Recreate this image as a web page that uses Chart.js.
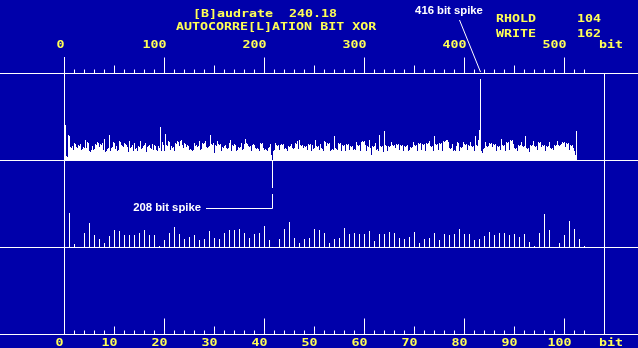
<!DOCTYPE html>
<html>
<head>
<meta charset="utf-8">
<script src="https://cdn.jsdelivr.net/npm/chart.js@4.4.1/dist/chart.umd.min.js"></script>
<style>
  html, body { margin: 0; padding: 0; background: #0000AA; }
  canvas { display: block; }
</style>
</head>
<body>
<canvas id="acChart" width="638" height="348"></canvas>
<script>
// autocorrelation per bit offset (1..512), height above the middle baseline
const bitValues = [
    35, 4, 3, 25, 24, 13, 12, 14, 10, 17, 16, 13, 12, 15, 14, 16,
    10, 11, 13, 12, 20, 12, 18, 17, 9, 8, 10, 14, 10, 11, 16, 15,
    18, 17, 13, 16, 15, 17, 10, 21, 8, 9, 11, 12, 25, 9, 12, 13,
    18, 17, 11, 14, 9, 10, 19, 18, 15, 14, 13, 17, 16, 15, 13, 8,
    19, 12, 13, 15, 9, 17, 11, 12, 9, 14, 13, 19, 11, 12, 14, 15,
    17, 8, 13, 14, 15, 12, 11, 16, 10, 15, 14, 10, 9, 14, 12, 33,
    9, 18, 15, 9, 26, 15, 14, 19, 18, 10, 14, 12, 13, 9, 17, 16,
    19, 18, 14, 19, 20, 15, 12, 17, 16, 13, 15, 14, 10, 11, 10, 9,
    10, 17, 14, 15, 13, 14, 19, 10, 11, 17, 16, 17, 19, 13, 12, 13,
    14, 25, 16, 15, 17, 7, 15, 14, 19, 16, 15, 16, 9, 13, 12, 14,
    15, 12, 11, 12, 17, 20, 9, 15, 14, 16, 15, 9, 10, 13, 12, 13,
    17, 10, 11, 16, 21, 17, 16, 14, 13, 14, 9, 15, 16, 15, 12, 11,
    12, 11, 9, 17, 16, 17, 12, 10, 11, 10, 9, 12, 13, 16, 5, -28,
    9, 10, 17, 15, 14, 15, 10, 15, 16, 15, 16, 11, 12, 11, 9, 14,
    13, 14, 16, 12, 11, 12, 17, 16, 19, 11, 20, 15, 14, 15, 12, 14,
    13, 14, 10, 16, 15, 16, 9, 15, 11, 12, 20, 14, 13, 14, 10, 16,
    12, 11, 9, 19, 18, 14, 17, 16, 17, 9, 10, 11, 10, 24, 12, 11,
    10, 17, 16, 17, 9, 15, 14, 15, 9, 16, 15, 16, 10, 14, 13, 14,
    10, 11, 10, 18, 15, 14, 15, 9, 18, 19, 18, 19, 15, 9, 14, 13,
    20, 12, 5, 14, 13, 14, 17, 10, 11, 9, 25, 14, 13, 14, 8, 29,
    15, 14, 9, 14, 13, 14, 18, 15, 14, 15, 12, 16, 15, 16, 10, 15,
    14, 15, 9, 14, 13, 14, 15, 9, 10, 13, 12, 13, 18, 15, 14, 15,
    9, 17, 16, 17, 10, 16, 15, 16, 9, 17, 16, 17, 19, 14, 13, 14,
    9, 24, 16, 15, 16, 10, 17, 16, 17, 9, 19, 18, 19, 20, 20, 18,
    12, 11, 12, 16, 9, 10, 9, 14, 18, 17, 9, 13, 12, 13, 18, 16,
    15, 16, 10, 15, 14, 18, 14, 13, 14, 9, 24, 15, 14, 20, 30, 81,
    9, 7, 11, 12, 18, 14, 13, 14, 17, 16, 17, 13, 16, 15, 16, 9,
    14, 13, 14, 10, 21, 15, 14, 15, 9, 18, 17, 18, 10, 20, 19, 20,
    16, 12, 11, 12, 9, 15, 14, 15, 18, 14, 13, 14, 24, 12, 11, 12,
    8, 15, 14, 15, 19, 14, 13, 14, 10, 18, 17, 18, 13, 15, 14, 15,
    9, 14, 13, 14, 18, 12, 11, 12, 10, 15, 14, 15, 19, 15, 14, 15,
    16, 18, 17, 18, 13, 17, 16, 17, 10, 15, 14, 15, 12, 9, 5, 29
];
const bitOffsets = bitValues.map((_, i) => i + 1);

// lower panel: one value per lag 1..104
const lagValues = [
    34, 3, -1, 14, 24, 12, 8, 4, 11, 17,
    16, 12, 12, 12, 14, 17, 12, 12, 1, 7,
    14, 20, 13, 8, 10, 12, 7, 8, 16, 9,
    8, 14, 17, 17, 18, 14, 9, 13, 14, 21,
    7, 0, 8, 18, 25, 9, 4, 8, 9, 18,
    17, 14, 4, 8, 9, 19, 13, 14, 13, 13,
    16, 6, 13, 13, 15, 14, 9, 8, 10, 15,
    4, 8, 9, 14, 7, 13, 12, 13, 18, 13,
    13, 7, 8, 11, 15, 12, 14, 14, 12, 13,
    10, 13, 5, 1, 14, 33, 17, 0, 4, 12,
    26, 18, 8, 1
];
const lagOffsets = lagValues.map((_, i) => i + 1);

const topTickLabels = [0, 100, 200, 300, 400, 500];
const bottomTickLabels = [0, 10, 20, 30, 40, 50, 60, 70, 80, 90, 100];
const unitLabel = 'bit';
const titleLines = ['[B]audrate  240.18', 'AUTOCORRE[L]ATION BIT XOR'];
const regLabels = ['RHOLD', 'WRITE'];
const regValues = ['104', '162'];
const spikeNotes = [416, 208];

const BLUE = '#0000AA';
const WHITE = '#FFFFFF';
const YELLOW = '#FFFF55';
const TOP_AXIS_Y = 73.5;
const BOTTOM_AXIS_Y = 334.5;
const LEFT_LINE_TOP = 57;
const FONT_SX = 1.33;

function monoText(ctx, str, x, y, align) {
    ctx.save();
    ctx.font = 'bold 10px "DejaVu Sans Mono"';
    const w = ctx.measureText(str).width * FONT_SX;
    const left = align === 'center' ? x - w / 2 : align === 'right' ? x - w : x;
    ctx.translate(left, y);
    ctx.scale(FONT_SX, 1);
    ctx.textAlign = 'left';
    ctx.textBaseline = 'alphabetic';
    ctx.fillText(str, 0, 0);
    ctx.restore();
}

function line(ctx, x1, y1, x2, y2) {
    ctx.beginPath();
    ctx.moveTo(x1, y1);
    ctx.lineTo(x2, y2);
    ctx.stroke();
}

const scopeDecor = {
    id: 'scopeDecor',
    afterDatasetsDraw(chart) {
        const ctx = chart.ctx;
        const { xBit, xLow, yMid, yLow } = chart.scales;
        const W = chart.width;
        ctx.save();
        ctx.strokeStyle = WHITE;
        ctx.lineWidth = 1;

        // horizontal rules
        line(ctx, 0, TOP_AXIS_Y, W, TOP_AXIS_Y);
        line(ctx, 0, yMid.getPixelForValue(0) + 0.5, W, yMid.getPixelForValue(0) + 0.5);
        line(ctx, 0, yLow.getPixelForValue(0) + 0.5, W, yLow.getPixelForValue(0) + 0.5);
        line(ctx, 0, BOTTOM_AXIS_Y, W, BOTTOM_AXIS_Y);

        // frame verticals
        const x0 = xBit.getPixelForValue(0);
        const xEnd = xBit.getPixelForValue(540);
        line(ctx, x0, LEFT_LINE_TOP, x0, BOTTOM_AXIS_Y);
        line(ctx, xEnd, TOP_AXIS_Y, xEnd, BOTTOM_AXIS_Y);

        // top scale ticks (bits)
        for (let v = 10; v <= 520; v += 10) {
            const len = v % 100 === 0 ? 16 : v % 50 === 0 ? 8 : 4;
            const x = xBit.getPixelForValue(v);
            line(ctx, x, TOP_AXIS_Y - len, x, TOP_AXIS_Y);
        }
        // bottom scale ticks (lags)
        for (let v = 2; v <= 104; v += 2) {
            const len = v % 20 === 0 ? 16 : v % 10 === 0 ? 8 : 4;
            const x = xLow.getPixelForValue(v);
            line(ctx, x, BOTTOM_AXIS_Y - len, x, BOTTOM_AXIS_Y);
        }

        // spike notes
        const x416 = xBit.getPixelForValue(spikeNotes[0]);
        line(ctx, x416 - 21, 20, x416, 72);
        const x208 = xBit.getPixelForValue(spikeNotes[1]);
        line(ctx, x208, 194, x208, 208.5);
        line(ctx, 206, 208.5, x208, 208.5);
        ctx.fillStyle = WHITE;
        ctx.font = 'bold 11.3px "Liberation Sans"';
        ctx.textBaseline = 'alphabetic';
        ctx.textAlign = 'center';
        ctx.fillText(spikeNotes[0] + ' bit spike', 449, 14);
        ctx.textAlign = 'right';
        ctx.fillText(spikeNotes[1] + ' bit spike', 201, 211);

        // yellow texts
        ctx.fillStyle = YELLOW;
        monoText(ctx, titleLines[0], 193, 16.5, 'left');
        monoText(ctx, titleLines[1], 176, 30, 'left');
        regLabels.forEach((lbl, i) => {
            monoText(ctx, lbl, 496, 22 + i * 15, 'left');
            monoText(ctx, regValues[i], 577, 22 + i * 15, 'left');
        });
        topTickLabels.forEach(v => {
            const nudge = v === 0 ? -4 : -10;
            monoText(ctx, String(v), xBit.getPixelForValue(v) + nudge, 48, 'center');
        });
        monoText(ctx, unitLabel, xEnd + 6.5, 48, 'center');
        bottomTickLabels.forEach(v => {
            monoText(ctx, String(v), xLow.getPixelForValue(v) - 5, 345.5, 'center');
        });
        monoText(ctx, unitLabel, xEnd + 6.5, 345.5, 'center');
        ctx.restore();
    }
};

const ctx = document.getElementById('acChart');
new Chart(ctx, {
    type: 'bar',
    data: {
        datasets: [{
            data: bitOffsets.map((b, i) => ({ x: b, y: bitValues[i] })),
            xAxisID: 'xBit',
            yAxisID: 'yMid',
            backgroundColor: WHITE,
            borderWidth: 0,
            barThickness: 1,
            inflateAmount: 0,
            grouped: false
        }, {
            data: lagOffsets.map((l, i) => ({ x: l, y: lagValues[i] })),
            xAxisID: 'xLow',
            yAxisID: 'yLow',
            backgroundColor: WHITE,
            borderWidth: 0,
            barThickness: 1,
            inflateAmount: 0,
            grouped: false
        }]
    },
    options: {
        responsive: false,
        devicePixelRatio: 1,
        animation: false,
        events: [],
        layout: { padding: { left: 64, right: 34, top: 0, bottom: 0 } },
        plugins: {
            legend: { display: false },
            tooltip: { enabled: false }
        },
        scales: {
            xBit: { type: 'linear', axis: 'x', position: 'bottom', display: false, offset: false, min: -0.5, max: 539.5 },
            xLow: { type: 'linear', axis: 'x', position: 'bottom', display: false, offset: false, min: -0.1, max: 107.9 },
            yMid: { type: 'linear', axis: 'y', position: 'left', display: false, min: -188, max: 160 },
            yLow: { type: 'linear', axis: 'y', position: 'left', display: false, min: -101, max: 247 }
        }
    },
    plugins: [scopeDecor]
});
</script>
</body>
</html>
